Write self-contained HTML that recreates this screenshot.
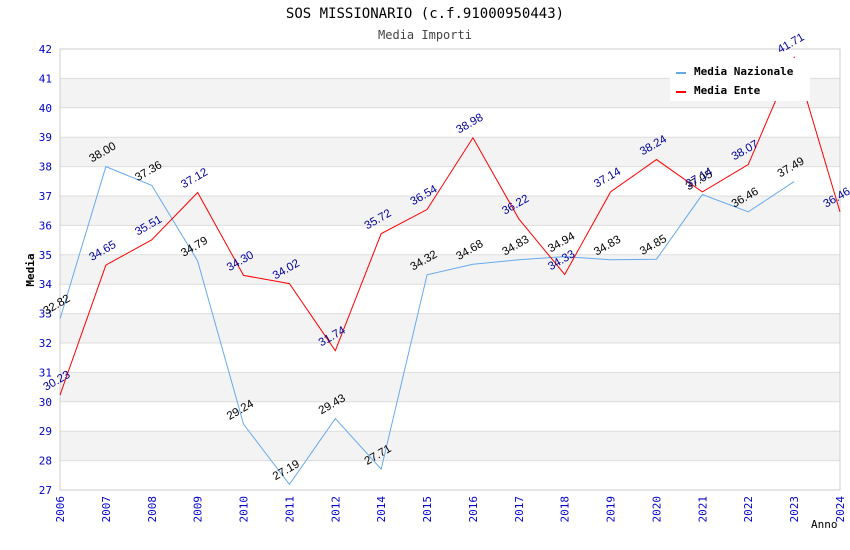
<!DOCTYPE html>
<html><head><meta charset="utf-8"><style>
body{margin:0;background:#fff;}
svg{display:block;font-family:"DejaVu Sans Mono","Liberation Mono",monospace;}
.v{font-family:"Liberation Sans",sans-serif;font-size:11.5px;}
</style></head><body>
<svg id="c" width="850" height="550">
<text x="425" y="18" text-anchor="middle" font-size="14" fill="#000">SOS MISSIONARIO (c.f.91000950443)</text>
<text x="425" y="39" text-anchor="middle" font-size="12" fill="#444">Media Importi</text>
<g id="bands"></g><g id="grid"></g><g id="axes"></g><g id="series"></g><g id="labels"></g>
<text x="34" y="270" transform="rotate(-90 34 270)" text-anchor="middle" font-size="11" font-weight="bold" fill="#000">Media</text>
<text x="811" y="528" font-size="11" fill="#000">Anno</text>
<g>
<rect x="670" y="58" width="140" height="43" fill="#fff"/>
<line x1="676" y1="73" x2="686" y2="73" stroke="#66aaee" stroke-width="2"/>
<text x="694" y="75" font-size="11" font-weight="bold">Media Nazionale</text>
<line x1="676" y1="92" x2="686" y2="92" stroke="#ff0000" stroke-width="2"/>
<text x="694" y="94" font-size="11" font-weight="bold">Media Ente</text>
</g>
</svg>
<script>
const categories=["2006","2007","2008","2009","2010","2011","2012","2014","2015","2016","2017","2018","2019","2020","2021","2022","2023","2024"];
const nazionale=[32.82,38.00,37.36,34.79,29.24,27.19,29.43,27.71,34.32,34.68,34.83,34.94,34.83,34.85,37.05,36.46,37.49,null];
const ente=[30.23,34.65,35.51,37.12,34.30,34.02,31.74,35.72,36.54,38.98,36.22,34.33,37.14,38.24,37.14,38.07,41.71,36.46];
const yTicks=[27,28,29,30,31,32,33,34,35,36,37,38,39,40,41,42];
const NS="http://www.w3.org/2000/svg";
const L=60,R=840,T=49,B=490,yMin=27,yMax=42;
const x=i=>L+i*(R-L)/(categories.length-1);
const y=v=>B-(v-yMin)*(B-T)/(yMax-yMin);
function mk(tag,attrs,parent,txt){const e=document.createElementNS(NS,tag);for(const k in attrs)e.setAttribute(k,attrs[k]);if(txt!=null)e.textContent=txt;document.getElementById(parent).appendChild(e);return e;}
for(let i=0;i<yTicks.length-1;i++){
 const v=yTicks[i];
 if(v%2===0){const r=mk('rect',{x:L,y:y(v+1),width:R-L,height:y(v)-y(v+1),fill:'#f3f3f3'},'bands');
 
 }
}
yTicks.forEach(v=>{
 const g=mk('line',{x1:L,x2:R,y1:y(v),y2:y(v),stroke:'#dddddd'},'grid');
 
 
 const t=mk('text',{x:L-8,y:y(v)+4,'text-anchor':'end','font-size':11,fill:'#0000cc'},'axes',String(v));
 
 
});
mk('rect',{x:L,y:T,width:R-L,height:B-T,fill:'none',stroke:'#cccccc'},'axes');
categories.forEach((c,i)=>{
 const t=mk('text',{x:x(i)+4,y:B+6,'text-anchor':'end','font-size':11,fill:'#0000cc',transform:`rotate(-90 ${x(i)+4} ${B+6})`},'axes',c);
 
 
});
function series(data,color,name,lblColor){
 let d='';data.forEach((v,i)=>{if(v!=null)d+=(d?'L':'M')+x(i)+' '+y(v);});
 const p=mk('path',{d:d,fill:'none',stroke:color,'stroke-width':1},'series');
 
 
 data.forEach((v,i)=>{if(v==null)return;
  const lx=x(i)-14,ly=y(v)-4;
  const t=mk('text',{x:lx,y:ly,class:'v',fill:lblColor,transform:`rotate(-30 ${lx} ${ly})`},'labels',v.toFixed(2));
  
  
 });
}
series(nazionale,'#66aaee','nazionale','#000000');
series(ente,'#ff0000','ente','#000099');
</script>
</body></html>
